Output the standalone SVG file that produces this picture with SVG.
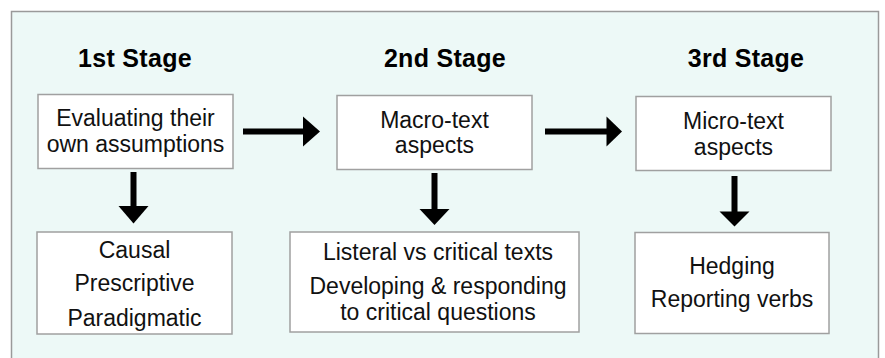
<svg xmlns="http://www.w3.org/2000/svg" width="885" height="358" viewBox="0 0 885 358">
<style>
.bg{fill:#EDF9F7;stroke:#9A9A9A;stroke-width:1.5}
.box{fill:#FFFFFF;stroke:#A0A0A0;stroke-width:1.5}
.t{font-family:"Liberation Sans",Arial,sans-serif;font-size:23px;fill:#111;text-anchor:middle}
.h{font-family:"Liberation Sans",Arial,sans-serif;font-size:25px;font-weight:bold;fill:#000;text-anchor:middle;letter-spacing:0.3px}
.ln{stroke:#000;stroke-width:6;fill:none}
.hd{fill:#000}
</style>
<rect class="bg" x="11.5" y="11.5" width="867" height="360"/>
<g id="headings">
<text class="h" x="135" y="67">1st Stage</text>
<text class="h" x="445" y="67">2nd Stage</text>
<text class="h" x="746" y="67">3rd Stage</text>
</g>
<g id="n1">
<rect class="box" x="38" y="94.5" width="195" height="74"/>
<text class="t" x="135.5" y="126">Evaluating their</text>
<text class="t" x="135.5" y="152">own assumptions</text>
</g>
<g id="n2">
<rect class="box" x="337" y="95.5" width="195" height="74"/>
<text class="t" x="434.5" y="127.5">Macro-text</text>
<text class="t" x="434.5" y="153">aspects</text>
</g>
<g id="n3">
<rect class="box" x="636" y="96.5" width="195" height="74"/>
<text class="t" x="733.5" y="129">Micro-text</text>
<text class="t" x="733.5" y="155">aspects</text>
</g>
<g id="n4">
<rect class="box" x="37" y="232" width="195" height="102"/>
<text class="t" x="134.5" y="257.5">Causal</text>
<text class="t" x="134.5" y="291">Prescriptive</text>
<text class="t" x="134.5" y="325.5">Paradigmatic</text>
</g>
<g id="n5">
<rect class="box" x="290" y="232" width="289" height="100"/>
<text class="t" x="438" y="260">Listeral vs critical texts</text>
<text class="t" x="438" y="294">Developing &amp; responding</text>
<text class="t" x="438" y="320">to critical questions</text>
</g>
<g id="n6">
<rect class="box" x="635" y="232.5" width="194" height="101"/>
<text class="t" x="732" y="273.5">Hedging</text>
<text class="t" x="732" y="307">Reporting verbs</text>
</g>
<g id="connectors">
<line class="ln" x1="243" y1="131.5" x2="305" y2="131.5"/>
<polygon class="hd" points="303,116.5 320,131.5 303,146.5"/>
<line class="ln" x1="545" y1="131.5" x2="608" y2="131.5"/>
<polygon class="hd" points="606.5,116.5 622,131.5 606.5,146.5"/>
<line class="ln" x1="133.5" y1="172" x2="133.5" y2="208"/>
<polygon class="hd" points="118.5,206 148.5,206 133.5,223.5"/>
<line class="ln" x1="434.5" y1="173" x2="434.5" y2="211"/>
<polygon class="hd" points="419.5,209 449.5,209 434.5,225"/>
<line class="ln" x1="734.5" y1="176" x2="734.5" y2="213"/>
<polygon class="hd" points="719.5,211.5 749.5,211.5 734.5,226.5"/>
</g>
</svg>
